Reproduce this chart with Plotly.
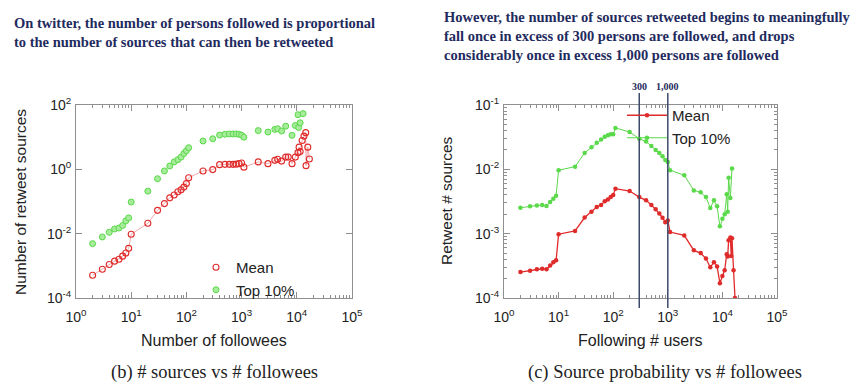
import math
import plotly.graph_objects as go

# ---------------- data ----------------
left_mean_x = [2, 3, 4, 5, 6, 7, 8, 9, 10, 20, 30, 40, 50, 60, 70, 80, 90, 100, 110,
               200, 300, 400, 500, 600, 700, 800, 900, 1000, 1100,
               2000, 3000, 4000, 4500, 5300, 6300, 7000, 8200, 9400, 10500, 11000,
               11500, 12500, 13500, 14500, 14700, 15800, 16900]
left_mean_y = [5.1e-4, 7.8e-4, 1.1e-3, 1.4e-3, 1.6e-3, 2.0e-3, 2.5e-3, 3.5e-3, 9.6e-3,
               0.021, 0.053, 0.086, 0.13, 0.16, 0.20, 0.23, 0.28, 0.36, 0.55,
               0.89, 0.98, 1.4, 1.43, 1.43, 1.43, 1.45, 1.5, 1.57, 1.17,
               1.7, 1.5, 1.9, 2.05, 1.8, 2.4, 2.4, 1.5, 2.4, 3.3, 4.9,
               3.6, 7.9, 10.8, 13.8, 1.3, 4.9, 2.1]

left_top_x = [2, 3, 4, 5, 6, 7, 8, 9, 10, 20, 30, 40, 50, 60, 70, 80, 90, 100, 110,
              200, 300, 400, 500, 600, 700, 800, 900, 1000, 1100,
              2000, 3000, 4000, 4500, 5300, 6300, 8200, 9400, 10500, 10800, 11500, 13000]
left_top_y = [4.9e-3, 7.9e-3, 0.011, 0.014, 0.015, 0.018, 0.025, 0.031, 0.096,
              0.21, 0.51, 0.89, 1.27, 1.7, 2.0, 2.4, 3.1, 3.8, 4.7,
              7.6, 8.9, 11.6, 12.3, 12.6, 12.6, 12.6, 12.3, 11.5, 10.0,
              16, 14.4, 17.5, 18.3, 15.5, 22, 11.4, 23, 50, 20, 28, 54]

right_x = [2, 3, 4, 5, 6, 7, 8, 9, 10, 20, 30, 40, 50, 60, 70, 80, 90, 100, 110,
           200, 300, 400, 500, 600, 700, 800, 900, 1000, 1100,
           2000, 3000, 4000, 5000, 6000, 7000, 8000, 9000, 10000, 11000, 12000,
           12500, 13000, 14000, 14500, 15000, 16000, 17000, 18000]
right_mean_y = [2.53e-4, 2.65e-4, 2.8e-4, 2.85e-4, 2.8e-4, 3.2e-4, 3.6e-4, 3.85e-4, 9.8e-4,
                1.1e-3, 1.78e-3, 2.2e-3, 2.6e-3, 2.8e-3, 3.2e-3, 3.4e-3, 3.7e-3, 4.0e-3, 5.0e-3,
                4.6e-3, 3.7e-3, 3.3e-3, 2.8e-3, 2.4e-3, 2.05e-3, 1.77e-3, 1.5e-3, 1.6e-3, 1.06e-3,
                9.4e-4, 5.5e-4, 5.0e-4, 4.1e-4, 3.0e-4, 3.6e-4, 3.1e-4, 1.7e-4, 2.2e-4, 2.7e-4, 4.8e-4,
                4.4e-4, 7.9e-4, 8.7e-4, 4.5e-4, 8.5e-4, 2.7e-4, 1.0e-4, 4e-5]

right_top_x = [2, 3, 4, 5, 6, 7, 8, 9, 10, 20, 30, 40, 50, 60, 70, 80, 90, 100, 110,
               200, 300, 400, 500, 600, 700, 800, 900, 1000, 1100,
               2000, 3000, 4000, 5000, 6000, 7000, 8000, 9000, 10000, 11000, 12000,
               12500, 13000, 14000, 15000]
right_top_y = [2.53e-3, 2.66e-3, 2.75e-3, 2.8e-3, 2.7e-3, 3.1e-3, 3.5e-3, 3.9e-3, 9.7e-3,
               0.011, 0.018, 0.022, 0.026, 0.029, 0.032, 0.034, 0.035, 0.035, 0.044,
               0.038, 0.030, 0.027, 0.023, 0.020, 0.018, 0.016, 0.014, 0.013, 9.7e-3,
               8.1e-3, 4.7e-3, 4.4e-3, 3.7e-3, 2.5e-3, 3.3e-3, 2.66e-3, 1.3e-3, 1.7e-3, 2.0e-3, 4.1e-3,
               2.2e-3, 7.4e-3, 3.6e-3, 0.0103]

series_names = ["Mean", "Top 10%"]

x_tick_vals = [1, 10, 100, 1000, 10000, 100000]
x_tick_text = ["10<sup>0</sup>", "10<sup>1</sup>", "10<sup>2</sup>", "10<sup>3</sup>",
               "10<sup>4</sup>", "10<sup>5</sup>"]
left_y_tick_vals = [1e-4, 1e-2, 1, 100]
left_y_tick_text = ["10<sup>-4</sup>", "10<sup>-2</sup>", "10<sup>0</sup>", "10<sup>2</sup>"]
right_y_tick_vals = [1e-4, 1e-3, 1e-2, 1e-1]
right_y_tick_text = ["10<sup>-4</sup>", "10<sup>-3</sup>", "10<sup>-2</sup>", "10<sup>-1</sup>"]

vline_x = [300, 1000]
vline_labels = ["300", "1,000"]

axis_titles = {"left_x": "Number of followees", "left_y": "Number of retweet sources",
               "right_x": "Following # users", "right_y": "Retweet # sources"}
left_title = "On twitter, the number of persons followed is proportional<br>to the number of sources that can then be retweeted"
right_title = ("However, the number of sources retweeted begins to meaningfully<br>"
               "fall once in excess of 300 persons are followed, and drops<br>"
               "considerably once in excess 1,000 persons are followed")
left_caption = "(b) # sources vs # followees"
right_caption = "(c) Source probability vs # followees"

# ---------------- styling ----------------
W, H = 858, 386
RED = "#e02b2b"
GREEN = "#5ad94a"
NAVY = "#1f2b5e"
FRAME = "#8f8f8f"
TEXT = "#222222"
SANS = "Liberation Sans, Arial, sans-serif"
SERIF = "Liberation Serif, Times New Roman, serif"


def px_x(p):
    return p / W


def px_y(p):
    return (H - p) / H


fig = go.Figure()

# left panel
fig.add_trace(go.Scatter(x=left_mean_x, y=left_mean_y, mode="lines",
                         line=dict(color=RED, width=0.8), opacity=0.5,
                         showlegend=False, hoverinfo="skip", xaxis="x", yaxis="y"))
fig.add_trace(go.Scatter(x=left_mean_x, y=left_mean_y, mode="markers", name=series_names[0],
                         marker=dict(symbol="circle-open", size=6, color=RED, line=dict(width=1.1)),
                         xaxis="x", yaxis="y", legend="legend"))
fig.add_trace(go.Scatter(x=left_top_x, y=left_top_y, mode="markers", name=series_names[1],
                         marker=dict(symbol="circle", size=6, color="#a6ec9a",
                                     line=dict(color=GREEN, width=1)),
                         xaxis="x", yaxis="y", legend="legend"))

# right panel
fig.add_trace(go.Scatter(x=right_x, y=right_mean_y, mode="lines+markers", name=series_names[0],
                         line=dict(color=RED, width=1.3),
                         marker=dict(symbol="circle", size=4.5, color=RED),
                         xaxis="x2", yaxis="y2", legend="legend2"))
fig.add_trace(go.Scatter(x=right_top_x, y=right_top_y, mode="lines+markers", name=series_names[1],
                         line=dict(color=GREEN, width=1),
                         marker=dict(symbol="circle", size=4.5, color=GREEN),
                         xaxis="x2", yaxis="y2", legend="legend2"))

minor_x = [m * 10 ** e for e in range(0, 5) for m in range(2, 10)]
minor_y_right = [m * 10 ** e for e in range(-4, -1) for m in range(2, 10)]

common_axis = dict(type="log", showgrid=False, zeroline=False, showline=True, mirror="ticks",
                   linecolor=FRAME, linewidth=1, ticks="inside", ticklen=6, tickcolor=FRAME,
                   automargin=False,
                   tickmode="array", tickfont=dict(family=SANS, size=14, color=TEXT))

fig.update_layout(
    template="none",
    width=W, height=H,
    margin=dict(l=0, r=0, t=0, b=0, autoexpand=False),
    paper_bgcolor="white", plot_bgcolor="white",
    xaxis=dict(common_axis, domain=[px_x(76), px_x(352)], range=[0, 5], anchor="y",
               tickvals=x_tick_vals, ticktext=x_tick_text, ticklabelstandoff=6,
               minor=dict(tickvals=minor_x, ticks="inside", ticklen=3, tickcolor=FRAME)),
    yaxis=dict(common_axis, domain=[px_y(298), px_y(105)], range=[-4, 2], anchor="x",
               tickvals=left_y_tick_vals, ticktext=left_y_tick_text, ticklabelstandoff=1),
    xaxis2=dict(common_axis, domain=[px_x(504), px_x(777)], range=[0, 5], anchor="y2",
                tickvals=x_tick_vals, ticktext=x_tick_text, ticklabelstandoff=6,
                minor=dict(tickvals=minor_x, ticks="inside", ticklen=3, tickcolor=FRAME)),
    yaxis2=dict(common_axis, domain=[px_y(298), px_y(105)], range=[-4, -1], anchor="x2",
                tickvals=right_y_tick_vals, ticktext=right_y_tick_text, ticklabelstandoff=1,
                minor=dict(tickvals=minor_y_right, ticks="inside", ticklen=3, tickcolor=FRAME)),
    legend=dict(x=px_x(196), y=px_y(251), xanchor="left", yanchor="top",
                bgcolor="rgba(0,0,0,0)", font=dict(family=SANS, size=15, color=TEXT),
                itemwidth=30, tracegroupgap=0),
    legend2=dict(x=px_x(622), y=px_y(99), xanchor="left", yanchor="top",
                 bgcolor="rgba(0,0,0,0)", font=dict(family=SANS, size=15, color=TEXT),
                 itemwidth=40, tracegroupgap=0),
    showlegend=True,
)

# axis titles
fig.add_annotation(x=px_x(214), y=px_y(340), xref="paper", yref="paper", text=axis_titles["left_x"],
                   showarrow=False, xanchor="center", yanchor="middle",
                   font=dict(family=SANS, size=16, color=TEXT))
fig.add_annotation(x=px_x(640), y=px_y(340), xref="paper", yref="paper", text=axis_titles["right_x"],
                   showarrow=False, xanchor="center", yanchor="middle",
                   font=dict(family=SANS, size=16, color=TEXT))
fig.add_annotation(x=px_x(20), y=px_y(202), xref="paper", yref="paper", text=axis_titles["left_y"],
                   showarrow=False, xanchor="center", yanchor="middle", textangle=-90,
                   font=dict(family=SANS, size=15.5, color=TEXT))
fig.add_annotation(x=px_x(446), y=px_y(201), xref="paper", yref="paper", text=axis_titles["right_y"],
                   showarrow=False, xanchor="center", yanchor="middle", textangle=-90,
                   font=dict(family=SANS, size=15.5, color=TEXT))

# vertical reference lines on the right panel
for v, lab in zip(vline_x, vline_labels):
    fig.add_shape(type="line", xref="x2", yref="paper",
                  x0=v, x1=v, y0=px_y(308), y1=px_y(93),
                  line=dict(color="#3d4a6b", width=1.5))
    fig.add_annotation(x=math.log10(v), xref="x2", y=px_y(86), yref="paper",
                       text=f"<b>{lab}</b>", showarrow=False,
                       font=dict(family=SERIF, size=10, color=NAVY),
                       xanchor="center", yanchor="middle")

# headings
fig.add_annotation(x=px_x(12), y=px_y(13), xref="paper", yref="paper", text=f"<b>{left_title}</b>",
                   showarrow=False, xanchor="left", yanchor="top", align="left",
                   font=dict(family=SERIF, size=14.5, color=NAVY))
fig.add_annotation(x=px_x(442), y=px_y(7), xref="paper", yref="paper", text=f"<b>{right_title}</b>",
                   showarrow=False, xanchor="left", yanchor="top", align="left",
                   font=dict(family=SERIF, size=14.5, color=NAVY))

# captions
fig.add_annotation(x=px_x(214), y=px_y(372), xref="paper", yref="paper", text=left_caption,
                   showarrow=False, xanchor="center", yanchor="middle",
                   font=dict(family=SERIF, size=18.5, color=TEXT))
fig.add_annotation(x=px_x(665), y=px_y(372), xref="paper", yref="paper", text=right_caption,
                   showarrow=False, xanchor="center", yanchor="middle",
                   font=dict(family=SERIF, size=18.5, color=TEXT))

fig.write_html("out.html", config={"displayModeBar": False},
               post_script="document.body.style.margin='0px';document.body.style.padding='0px';")
